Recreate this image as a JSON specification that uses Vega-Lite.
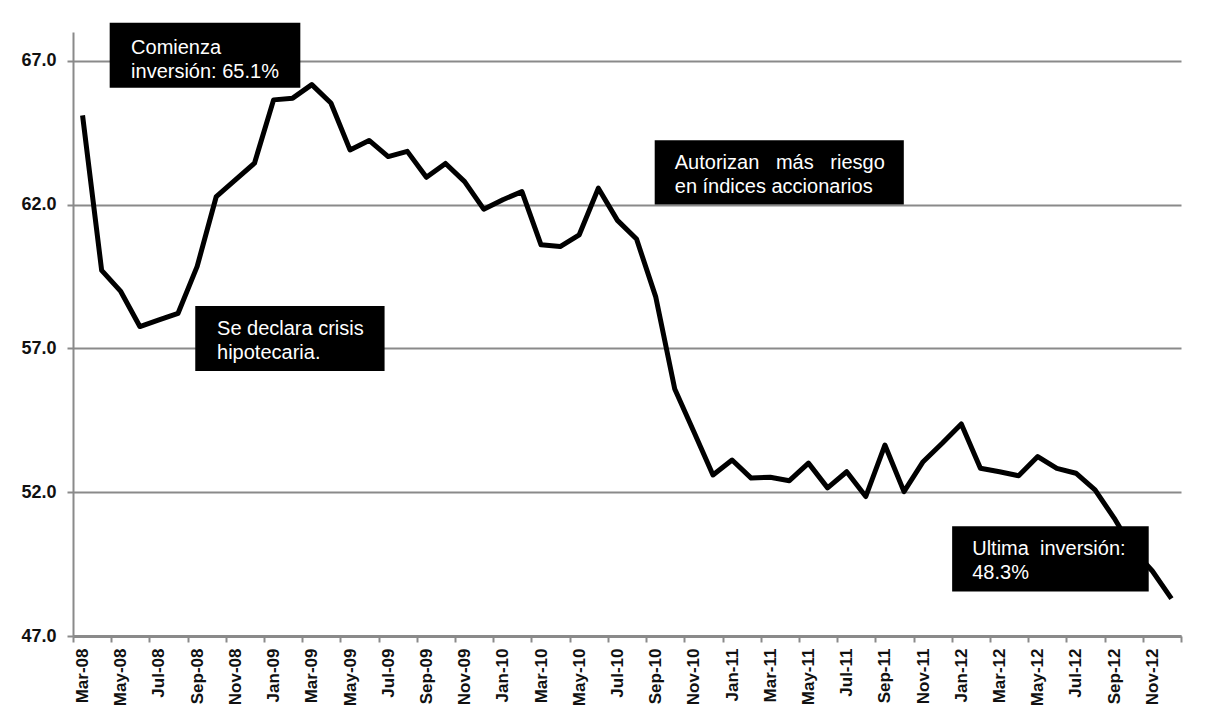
{
  "$schema": "https://vega.github.io/schema/vega-lite/v6.json",
  "width": 1108,
  "height": 604,
  "autosize": "none",
  "padding": {"left": 73, "top": 32, "right": 27, "bottom": 81},
  "background": "white",
  "config": {
    "view": {"stroke": null},
    "font": "Liberation Sans",
    "axis": {"labelFont": "Liberation Sans", "labelFontWeight": "bold", "labelColor": "#111111"}
  },
  "datasets": {
    "serie": [
      {"i": 0, "mes": "Mar-08", "v": 65.1},
      {"i": 1, "mes": "Apr-08", "v": 59.71},
      {"i": 2, "mes": "May-08", "v": 58.98},
      {"i": 3, "mes": "Jun-08", "v": 57.76},
      {"i": 4, "mes": "Jul-08", "v": 57.99},
      {"i": 5, "mes": "Aug-08", "v": 58.22},
      {"i": 6, "mes": "Sep-08", "v": 59.85},
      {"i": 7, "mes": "Oct-08", "v": 62.28},
      {"i": 8, "mes": "Nov-08", "v": 62.86},
      {"i": 9, "mes": "Dec-08", "v": 63.44},
      {"i": 10, "mes": "Jan-09", "v": 65.64},
      {"i": 11, "mes": "Feb-09", "v": 65.7},
      {"i": 12, "mes": "Mar-09", "v": 66.17},
      {"i": 13, "mes": "Apr-09", "v": 65.53},
      {"i": 14, "mes": "May-09", "v": 63.9},
      {"i": 15, "mes": "Jun-09", "v": 64.23},
      {"i": 16, "mes": "Jul-09", "v": 63.67},
      {"i": 17, "mes": "Aug-09", "v": 63.85},
      {"i": 18, "mes": "Sep-09", "v": 62.95},
      {"i": 19, "mes": "Oct-09", "v": 63.43},
      {"i": 20, "mes": "Nov-09", "v": 62.8},
      {"i": 21, "mes": "Dec-09", "v": 61.84},
      {"i": 22, "mes": "Jan-10", "v": 62.17},
      {"i": 23, "mes": "Feb-10", "v": 62.45},
      {"i": 24, "mes": "Mar-10", "v": 60.6},
      {"i": 25, "mes": "Apr-10", "v": 60.54},
      {"i": 26, "mes": "May-10", "v": 60.95},
      {"i": 27, "mes": "Jun-10", "v": 62.57},
      {"i": 28, "mes": "Jul-10", "v": 61.45},
      {"i": 29, "mes": "Aug-10", "v": 60.8},
      {"i": 30, "mes": "Sep-10", "v": 58.8},
      {"i": 31, "mes": "Oct-10", "v": 55.59},
      {"i": 32, "mes": "Nov-10", "v": 54.1},
      {"i": 33, "mes": "Dec-10", "v": 52.6},
      {"i": 34, "mes": "Jan-11", "v": 53.12},
      {"i": 35, "mes": "Feb-11", "v": 52.49},
      {"i": 36, "mes": "Mar-11", "v": 52.52},
      {"i": 37, "mes": "Apr-11", "v": 52.4},
      {"i": 38, "mes": "May-11", "v": 53.01},
      {"i": 39, "mes": "Jun-11", "v": 52.15},
      {"i": 40, "mes": "Jul-11", "v": 52.71},
      {"i": 41, "mes": "Aug-11", "v": 51.85},
      {"i": 42, "mes": "Sep-11", "v": 53.64},
      {"i": 43, "mes": "Oct-11", "v": 52.02},
      {"i": 44, "mes": "Nov-11", "v": 53.06},
      {"i": 45, "mes": "Dec-11", "v": 53.7},
      {"i": 46, "mes": "Jan-12", "v": 54.37},
      {"i": 47, "mes": "Feb-12", "v": 52.83},
      {"i": 48, "mes": "Mar-12", "v": 52.71},
      {"i": 49, "mes": "Apr-12", "v": 52.57},
      {"i": 50, "mes": "May-12", "v": 53.24},
      {"i": 51, "mes": "Jun-12", "v": 52.83},
      {"i": 52, "mes": "Jul-12", "v": 52.66},
      {"i": 53, "mes": "Aug-12", "v": 52.08},
      {"i": 54, "mes": "Sep-12", "v": 51.1},
      {"i": 55, "mes": "Oct-12", "v": 49.99},
      {"i": 56, "mes": "Nov-12", "v": 49.26},
      {"i": 57, "mes": "Dec-12", "v": 48.3}
    ],
    "notas": [
      {"x1": 1.42, "x2": 11.4, "y1": 68.32, "y2": 66.06, "tx": 2.54, "ty": 67.24, "texto": ["Comienza", "inversión: 65.1%"]},
      {"x1": 5.9, "x2": 15.81, "y1": 58.47, "y2": 56.21, "tx": 7.04, "ty": 57.46, "texto": ["Se declara crisis", "hipotecaria."]},
      {"x1": 29.95, "x2": 42.99, "y1": 64.24, "y2": 62.0, "tx": 31.0, "ty": 63.23, "texto": ["Autorizan\u00a0\u00a0\u00a0más\u00a0\u00a0\u00a0riesgo", "en índices accionarios"]},
      {"x1": 45.52, "x2": 55.81, "y1": 50.82, "y2": 48.55, "tx": 46.57, "ty": 49.83, "texto": ["Ultima\u00a0\u00a0inversión:", "48.3%"]}
    ]
  },
  "layer": [
    {
      "data": {"name": "serie"},
      "mark": {"type": "line", "color": "black", "strokeWidth": 5, "strokeJoin": "round"},
      "encoding": {
        "x": {
          "field": "i", "type": "quantitative",
          "scale": {"domain": [-0.5, 57.5], "nice": false, "zero": false},
          "axis": {
            "title": null,
            "grid": false,
            "tickCount": 500,
            "values": [-0.5, 0, 1.5, 2, 3.5, 4, 5.5, 6, 7.5, 8, 9.5, 10, 11.5, 12, 13.5, 14, 15.5, 16, 17.5, 18, 19.5, 20, 21.5, 22, 23.5, 24, 25.5, 26, 27.5, 28, 29.5, 30, 31.5, 32, 33.5, 34, 35.5, 36, 37.5, 38, 39.5, 40, 41.5, 42, 43.5, 44, 45.5, 46, 47.5, 48, 49.5, 50, 51.5, 52, 53.5, 54, 55.5, 56, 57.5],
            "labelExpr": "datum.value % 1 === 0 ? timeFormat(datetime(2008, 2 + datum.value, 1), '%b-%y') : ''",
            "labelFontSize": 17,
            "labelAngle": -90,
            "labelAlign": "right",
            "labelBaseline": "middle",
            "labelPadding": 6,
            "labelOverlap": false,
            "labelFlush": false,
            "labelBound": false,
            "domainColor": "#8a8a8a",
            "domainWidth": 3,
            "tickColor": "#8a8a8a",
            "tickWidth": 2,
            "tickSize": 6,
            "tickOpacity": {"condition": {"test": "datum.value % 1 === 0", "value": 0}, "value": 1}
          }
        },
        "y": {
          "field": "v", "type": "quantitative",
          "scale": {"domain": [47, 68], "nice": false, "zero": false},
          "axis": {
            "title": null,
            "values": [47, 52, 57, 62, 67],
            "format": ".1f",
            "labelFontSize": 18,
            "grid": true,
            "gridColor": "#8a8a8a",
            "gridWidth": 2,
            "domainColor": "#8a8a8a",
            "domainWidth": 2,
            "tickColor": "#8a8a8a",
            "tickWidth": 2,
            "tickSize": 6,
            "labelPadding": 11
          }
        }
      }
    },
    {
      "data": {"name": "notas"},
      "mark": {"type": "rect", "color": "black"},
      "encoding": {
        "x": {"field": "x1", "type": "quantitative"},
        "x2": {"field": "x2"},
        "y": {"field": "y1", "type": "quantitative"},
        "y2": {"field": "y2"}
      }
    },
    {
      "data": {"name": "notas"},
      "mark": {"type": "text", "color": "white", "font": "Liberation Sans", "fontSize": 20, "align": "left", "baseline": "alphabetic", "lineHeight": 24},
      "encoding": {
        "x": {"field": "tx", "type": "quantitative"},
        "y": {"field": "ty", "type": "quantitative"},
        "text": {"field": "texto"}
      }
    }
  ]
}
